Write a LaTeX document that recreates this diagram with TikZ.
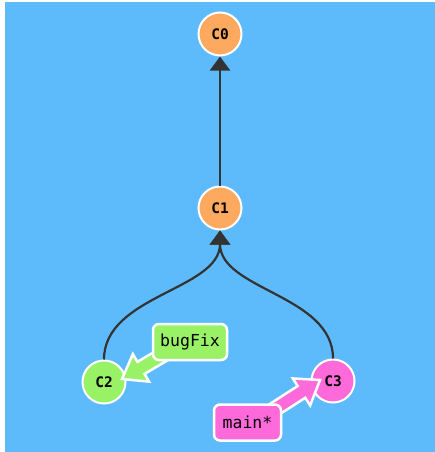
\documentclass[tikz,border=0pt]{standalone}
\usepackage{fontspec}
\setmonofont{DejaVu Sans Mono}
\usetikzlibrary{calc,arrows.meta}
\definecolor{bgblue}{HTML}{5DBBFC}
\definecolor{corange}{HTML}{FDA960}
\definecolor{cgreen}{HTML}{99F266}
\definecolor{cpink}{HTML}{FF6ADA}
\definecolor{edgec}{HTML}{333333}
\tikzset{
  commit/.style={circle, draw=white, line width=2pt, minimum size=43pt, inner sep=0pt, font=\ttfamily\bfseries\fontsize{14.5}{16}\selectfont},
  branch/.style={rectangle, rounded corners=6pt, draw=white, line width=2.5pt, inner sep=0pt, font=\ttfamily\fontsize{16.5}{18}\selectfont},
  parent/.style={draw=edgec, line width=2.2pt, -{Triangle[width=20pt,length=14pt]}},
}
\newcommand\brarrow[3]{%
  \coordinate (bh) at ($(#2)!22pt!(#1)$);
  \filldraw[fill=#3, draw=white, line width=2.5pt, line join=miter]
    ($(#1)!7pt!90:(#2)$) -- ($(bh)!7pt!90:(#2)$) -- ($(bh)!16pt!90:(#2)$) -- (#2)
    -- ($(bh)!16pt!-90:(#2)$) -- ($(bh)!7pt!-90:(#2)$) -- ($(#1)!7pt!-90:(#2)$) -- cycle;}
\begin{document}
\begin{tikzpicture}[x=1pt,y=-1pt]
\useasboundingbox (0,0) rectangle (435,452);
\fill[bgblue] (5,2) rectangle (435,452);
\node[commit, fill=corange] (C0) at (220,34) {C0};
\node[commit, fill=corange] (C1) at (220,208) {C1};
\node[commit, fill=cgreen] (C2) at (104,382) {C2};
\node[commit, fill=cpink] (C3) at (333,381) {C3};
\draw[parent] (C1) -- (C0);
\draw[parent] (C2.north) .. controls (104,295) and (220,290) .. (C1.south);
\draw[parent] (C3.north) .. controls (333,295) and (220,290) .. (C1.south);
\coordinate (bfs) at (185,342);
\coordinate (bft) at (122,379);
\coordinate (mns) at (250,425);
\coordinate (mnt) at (320,380);
\brarrow{bfs}{bft}{cgreen}
\brarrow{mns}{mnt}{cpink}
\node[branch, fill=cgreen, minimum width=74pt, minimum height=36pt] (bugFix) at (190,342) {bugFix};
\node[branch, fill=cpink, minimum width=67pt, minimum height=36pt] (main) at (247.5,422.5) {main*};
\end{tikzpicture}
\end{document}
